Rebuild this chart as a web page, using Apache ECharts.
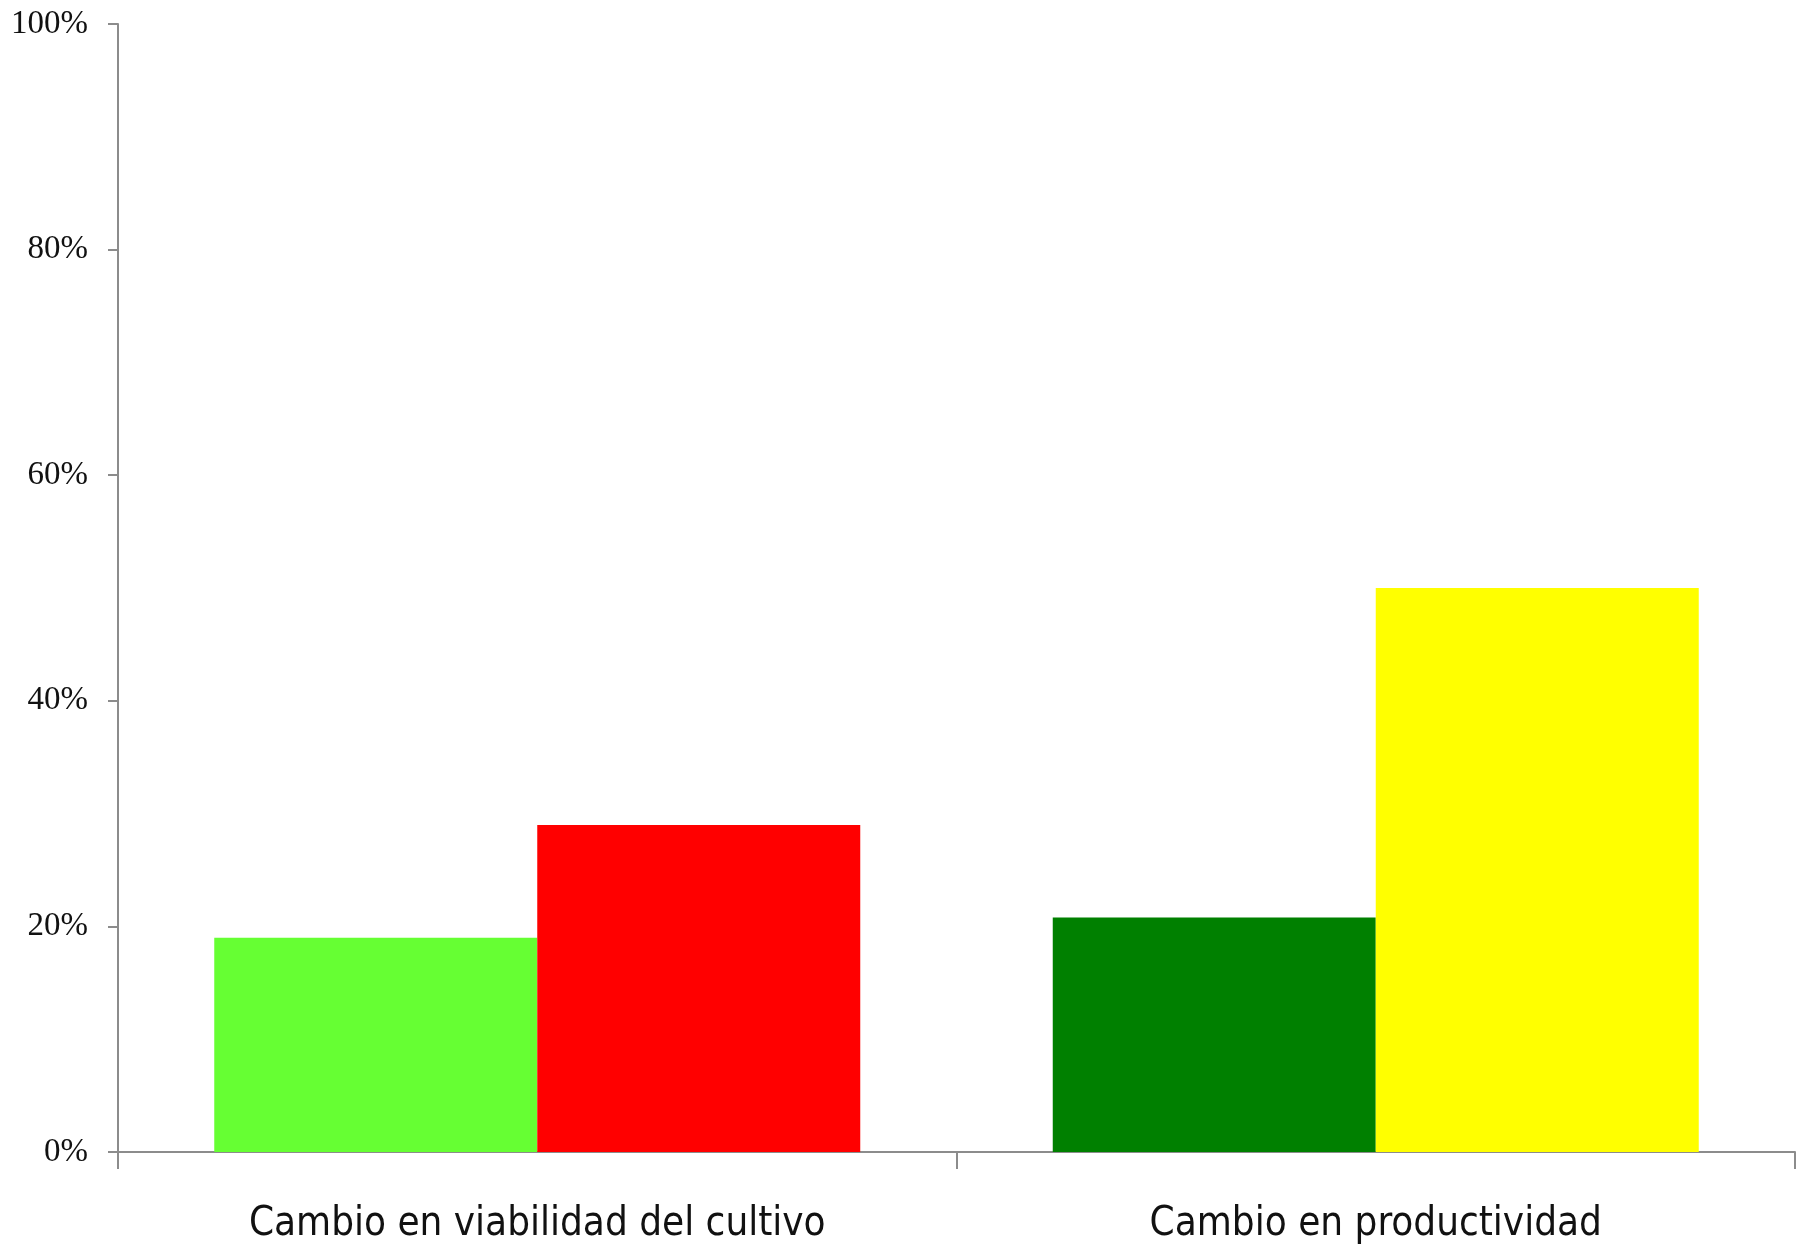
<!DOCTYPE html>
<html lang="es">
<head>
    <meta charset="UTF-8">
    <title>echarts</title>
    <script src="https://cdn.jsdelivr.net/npm/echarts@6/dist/echarts.min.js"></script>
    <style>
        html, body { margin: 0; padding: 0; background: #fff; }
        #chart { width: 1813px; height: 1253px; }
    </style>
</head>
<body>
<div id="chart"></div>
<script type="text/javascript">
    // datos
    let categories = ['Cambio en viabilidad del cultivo', 'Cambio en productividad'];
    let firstBars = [19, 20.8];
    let secondBars = [29, 50];
    let firstColors = ['#66ff33', '#008000'];
    let secondColors = ['#ff0000', '#ffff00'];
    let yTicks = [0, 20, 40, 60, 80, 100];

    function withColors(values, colors) {
        return values.map(function (v, i) {
            return { value: v, itemStyle: { color: colors[i] } };
        });
    }

    let axisGray = '#8c8c8c';

    let option = {
        animation: false,
        backgroundColor: '#ffffff',
        grid: { left: 118, right: 18, top: 24, bottom: 101 },
        xAxis: {
            type: 'category',
            data: categories,
            axisLine: { lineStyle: { color: axisGray, width: 2 } },
            axisTick: { show: true, length: 17, inside: false, lineStyle: { color: axisGray, width: 2 } },
            axisLabel: {
                margin: 53,
                color: '#111',
                fontSize: 40,
                fontFamily: '"Liberation Sans Narrow", "DejaVu Sans Condensed", sans-serif'
            }
        },
        yAxis: {
            type: 'value',
            min: yTicks[0],
            max: yTicks[yTicks.length - 1],
            interval: 20,
            splitLine: { show: false },
            axisLine: { show: true, lineStyle: { color: axisGray, width: 2 } },
            axisTick: { show: true, length: 10, lineStyle: { color: axisGray, width: 2 } },
            axisLabel: {
                formatter: '{value}%',
                margin: 30,
                color: '#111',
                fontSize: 33,
                fontFamily: '"Liberation Serif", serif'
            }
        },
        series: [
            {
                type: 'bar',
                data: withColors(firstBars, firstColors),
                barWidth: 323,
                barGap: '0%'
            },
            {
                type: 'bar',
                data: withColors(secondBars, secondColors),
                barWidth: 323,
                barGap: '0%'
            }
        ]
    };

    let myChart = echarts.init(document.getElementById('chart'));
    myChart.setOption(option);
</script>
</body>
</html>
